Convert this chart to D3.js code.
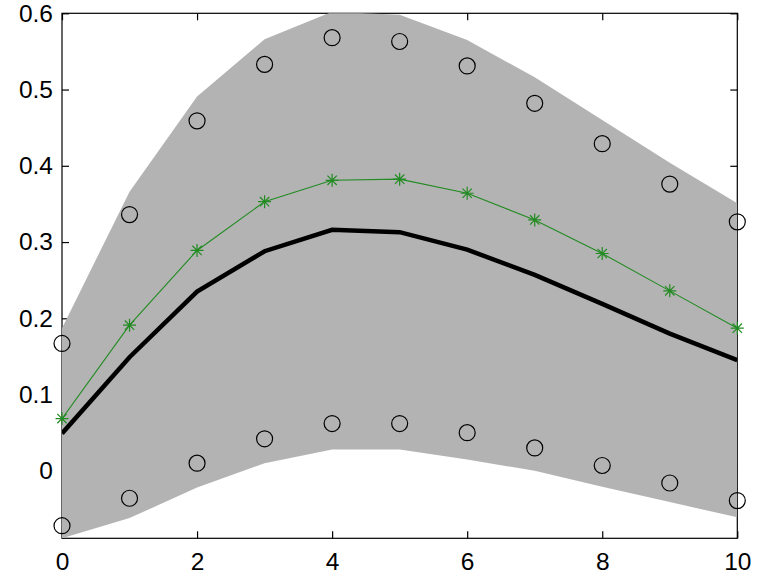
<!DOCTYPE html>
<html>
<head>
<meta charset="utf-8">
<script src="https://cdn.jsdelivr.net/npm/d3@7"></script>
<style>
html,body{margin:0;padding:0;background:#fff;}
svg{display:block;}
text{font-family:"Liberation Sans",Arial,Helvetica,sans-serif;}
</style>
</head>
<body>
<svg id="chart" width="763" height="582"></svg>
<script>
const xValues = [0,1,2,3,4,5,6,7,8,9,10];
const bandUpper = [0.187,0.366,0.491,0.566,0.602,0.598,0.565,0.516,0.460,0.404,0.351];
const bandLower = [-0.0885,-0.062,-0.022,0.010,0.028,0.028,0.015,0.000,-0.021,-0.041,-0.061];
const circlesUpper = [0.167,0.336,0.459,0.533,0.568,0.563,0.531,0.482,0.429,0.376,0.3265];
const circlesLower = [-0.072,-0.036,0.010,0.042,0.062,0.062,0.050,0.030,0.007,-0.016,-0.039];
const greenSeries = [0.0685,0.191,0.289,0.353,0.381,0.3825,0.364,0.329,0.285,0.236,0.187];
const blackSeries = [0.049,0.149,0.235,0.288,0.316,0.313,0.290,0.257,0.219,0.180,0.145];
const xTicks = [0,2,4,6,8,10];
const yTicks = [0,0.1,0.2,0.3,0.4,0.5,0.6];
const yDomain = [-0.0885, 0.6];

const svg = d3.select("#chart");
const L = 62, R = 737.3, T = 13.3, B = 538.3;
const x = d3.scaleLinear().domain([0,10]).range([L,R]);
const y = d3.scaleLinear().domain(yDomain).range([B,T]);

// axes box and ticks (drawn underneath, like MATLAB's bottom layer)
const tickLen = 7;
const axG = svg.append("g");
axG.append("rect").attr("x",L).attr("y",T).attr("width",R-L).attr("height",B-T)
  .attr("fill","none").attr("stroke","#000").attr("stroke-width",1.2);

const xb = axG.append("g").attr("transform",`translate(0,${B})`)
  .call(d3.axisBottom(x).tickValues(xTicks).tickSize(-tickLen).tickPadding(14).tickFormat(d3.format("d")));
const xt = axG.append("g").attr("transform",`translate(0,${T})`)
  .call(d3.axisTop(x).tickValues(xTicks).tickSize(-tickLen).tickFormat(""));
const yl = axG.append("g").attr("transform",`translate(${L},0)`)
  .call(d3.axisLeft(y).tickValues(yTicks).tickSize(-tickLen).tickPadding(9).tickFormat(d => d===0 ? "0" : d3.format(".1f")(d)));
const yr = axG.append("g").attr("transform",`translate(${R},0)`)
  .call(d3.axisRight(y).tickValues(yTicks).tickSize(-tickLen).tickFormat(""));
[xb,xt,yl,yr].forEach(g => {
  g.attr("font-size",null).attr("font-family",null);
  g.select(".domain").remove();
  g.selectAll(".tick line").attr("stroke","#000").attr("stroke-width",1.2);
  g.selectAll(".tick text").attr("fill","#000").style("font-size","24.5px");
});

// clip
svg.append("clipPath").attr("id","clip").append("rect")
  .attr("x",L).attr("y",T).attr("width",R-L).attr("height",B-T);
const plot = svg.append("g").attr("clip-path","url(#clip)");

// band
const area = d3.area().x((d,i)=>x(xValues[i])).y0((d,i)=>y(bandLower[i])).y1((d,i)=>y(bandUpper[i]));
plot.append("path").datum(xValues).attr("d",area).attr("fill","#b3b3b3").attr("stroke","none");

// black thick line
const line = arr => d3.line().x((d,i)=>x(xValues[i])).y((d,i)=>y(arr[i]));
plot.append("path").datum(blackSeries).attr("d",line(blackSeries))
  .attr("fill","none").attr("stroke","#000").attr("stroke-width",4.5).attr("stroke-linejoin","miter");

// green line with asterisk markers
const green = "#228b22";
plot.append("path").datum(greenSeries).attr("d",line(greenSeries))
  .attr("fill","none").attr("stroke",green).attr("stroke-width",1.1);
const s = 6.5;
const starPath = `M${-s},0L${s},0M0,${-s}L0,${s}M${-s*0.72},${-s*0.72}L${s*0.72},${s*0.72}M${-s*0.72},${s*0.72}L${s*0.72},${-s*0.72}`;
svg.append("g").selectAll("path").data(greenSeries).join("path")
  .attr("transform",(d,i)=>`translate(${x(xValues[i])},${y(d)})`)
  .attr("d",starPath).attr("stroke",green).attr("stroke-width",1.2).attr("fill","none");

// circles
const circG = svg.append("g");
[circlesUpper, circlesLower].forEach(arr => {
  circG.append("g").selectAll("circle").data(arr).join("circle")
    .attr("cx",(d,i)=>x(xValues[i])).attr("cy",d=>y(d)).attr("r",8)
    .attr("fill","none").attr("stroke","#000").attr("stroke-width",1.2);
});
</script>
</body>
</html>
